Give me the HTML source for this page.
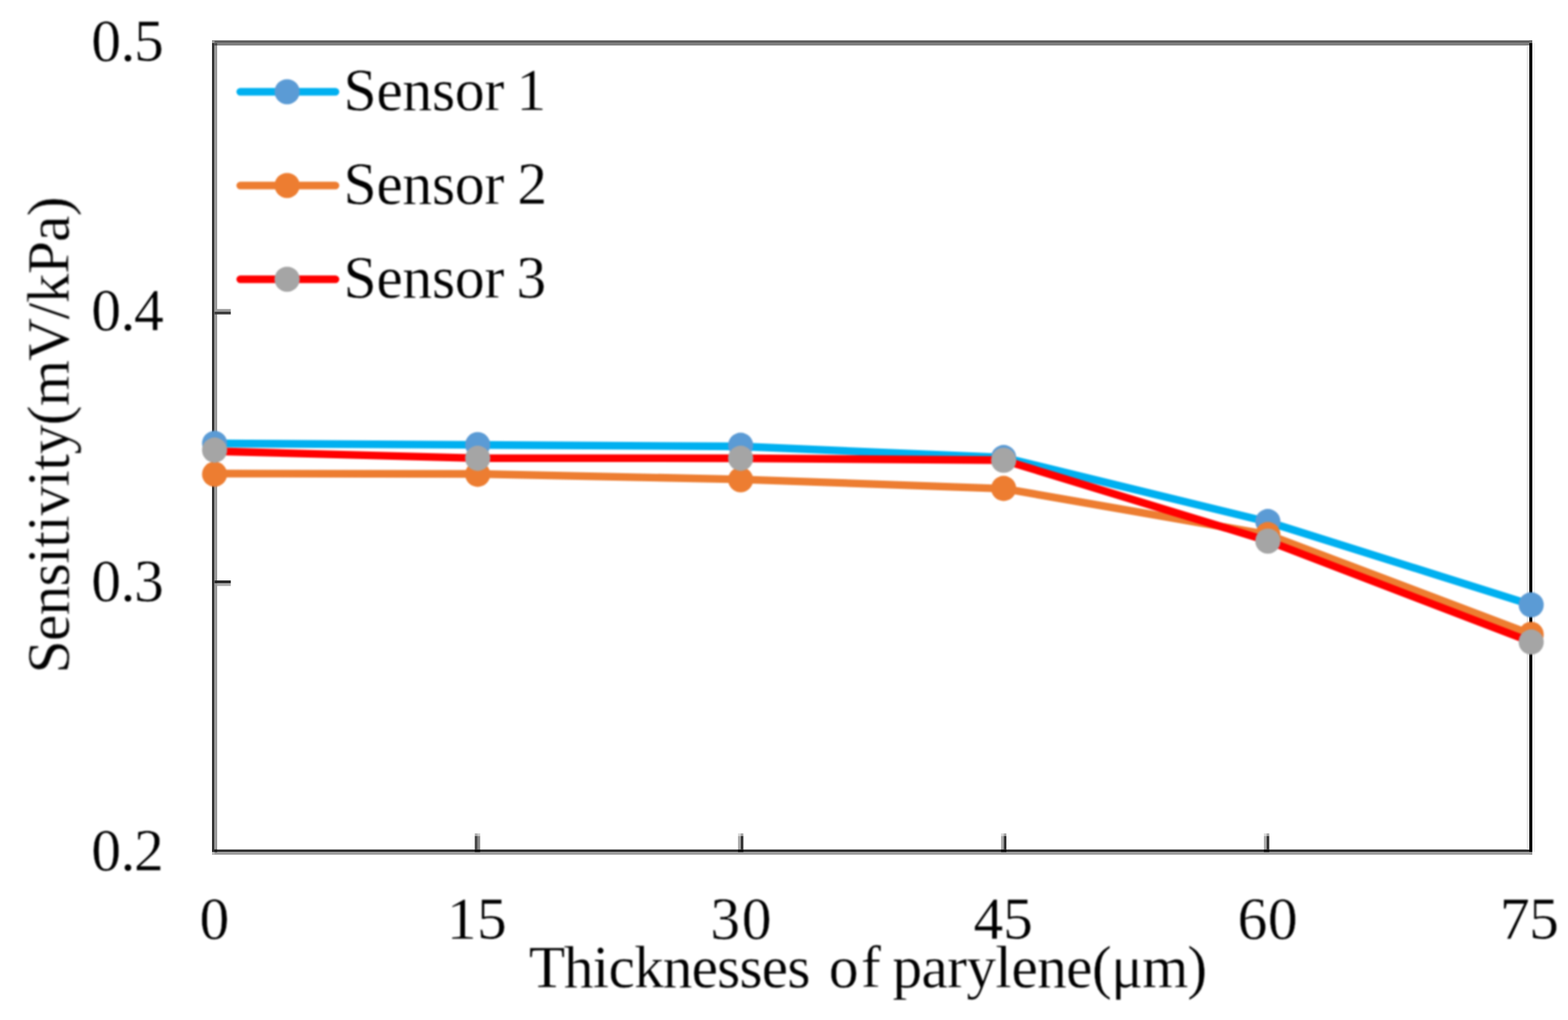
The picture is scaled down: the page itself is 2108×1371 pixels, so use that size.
<!DOCTYPE html>
<html lang="en"><head><meta charset="utf-8"><title>Sensitivity vs thickness of parylene</title>
<style>html,body{margin:0;padding:0;background:#fff;}body{width:2108px;height:1371px;overflow:hidden;}svg{display:block;}text{font-family:"Liberation Serif",serif;font-size:80px;fill:#000;font-kerning:none;stroke:#fff;stroke-width:0.4px;stroke-linejoin:round;}</style></head><body>
<svg width="2108" height="1371" viewBox="0 0 2108 1371">
<rect width="2108" height="1371" fill="#fff"/>
<g>
<rect x="285" y="54.3" width="1775" height="3.5" fill="#595959"/>
<rect x="285" y="57.8" width="1775" height="3.4" fill="#7f7f7f"/>
<rect x="285" y="57.8" width="3.5" height="1088" fill="#333"/>
<rect x="288.5" y="57.8" width="3.5" height="1088" fill="#999"/>
<rect x="285" y="1141.8" width="1775" height="3.5" fill="#303030"/>
<rect x="285" y="1145.3" width="1775" height="3.5" fill="#999"/>
<rect x="2052.5" y="61.2" width="3.5" height="1080.6" fill="#e8e8e8"/>
<rect x="2060" y="57.8" width="3.5" height="1087.5" fill="#f0f0f0"/>
<rect x="2056" y="57.8" width="4" height="1087.5" fill="#000"/>
<rect x="2056" y="54.3" width="4" height="3.5" fill="#6a6a6a"/>
<rect x="2056" y="1145.3" width="4" height="3.5" fill="#999"/>
<rect x="285" y="54.3" width="3.5" height="3.5" fill="#999"/>
<rect x="288.5" y="57.8" width="3.5" height="3.4" fill="#4d4d4d"/>
<rect x="285" y="1145.3" width="3.5" height="3.5" fill="#bbb"/>
<rect x="288.5" y="1141.8" width="3.5" height="3.5" fill="#1a1a1a"/>
<rect x="292" y="415.4" width="18.3" height="3.6" fill="#999"/>
<rect x="288.5" y="419" width="21.8" height="3.6" fill="#3a3a3a"/>
<rect x="288.5" y="780.2" width="21.8" height="3.7" fill="#222"/>
<rect x="292" y="783.9" width="18.3" height="3.7" fill="#aaa"/>
<rect x="638.3" y="1120.2" width="3.6" height="3.4" fill="#444" opacity="0.45"/>
<rect x="641.9" y="1120.2" width="3.6" height="3.4" fill="#888" opacity="0.45"/>
<rect x="638.3" y="1123.6" width="3.6" height="18.2" fill="#444"/>
<rect x="641.9" y="1123.6" width="3.6" height="18.2" fill="#888"/>
<rect x="638.3" y="1141.8" width="7.2" height="3.5" fill="#080808"/>
<rect x="992.2" y="1120.2" width="3.6" height="3.4" fill="#aaa" opacity="0.45"/>
<rect x="995.8" y="1120.2" width="3.6" height="3.4" fill="#333" opacity="0.45"/>
<rect x="992.2" y="1123.6" width="3.6" height="18.2" fill="#aaa"/>
<rect x="995.8" y="1123.6" width="3.6" height="18.2" fill="#333"/>
<rect x="992.2" y="1141.8" width="7.2" height="3.5" fill="#080808"/>
<rect x="1345.8" y="1120.2" width="3.6" height="3.4" fill="#aaa" opacity="0.45"/>
<rect x="1349.4" y="1120.2" width="3.6" height="3.4" fill="#333" opacity="0.45"/>
<rect x="1345.8" y="1123.6" width="3.6" height="18.2" fill="#aaa"/>
<rect x="1349.4" y="1123.6" width="3.6" height="18.2" fill="#333"/>
<rect x="1345.8" y="1141.8" width="7.2" height="3.5" fill="#080808"/>
<rect x="1699.2" y="1120.2" width="3.6" height="3.4" fill="#aaa" opacity="0.45"/>
<rect x="1702.8" y="1120.2" width="3.6" height="3.4" fill="#333" opacity="0.45"/>
<rect x="1699.2" y="1123.6" width="3.6" height="18.2" fill="#aaa"/>
<rect x="1702.8" y="1123.6" width="3.6" height="18.2" fill="#333"/>
<rect x="1699.2" y="1141.8" width="7.2" height="3.5" fill="#080808"/>
</g>
<g style="filter:blur(0.9px)">
<polyline points="288.5,596 642.2,598 995.7,600 1349.3,615 1704.5,701.5 2058.5,812.8" fill="none" stroke="#00b0f0" stroke-width="10.3" stroke-linecap="round" stroke-linejoin="round"/>
<circle cx="288.5" cy="596" r="16.9" fill="#5b9bd5"/><circle cx="642.2" cy="597.7" r="16.9" fill="#5b9bd5"/><circle cx="995.7" cy="598.5" r="16.9" fill="#5b9bd5"/><circle cx="1349.3" cy="615" r="16.9" fill="#5b9bd5"/><circle cx="1704.5" cy="701" r="16.9" fill="#5b9bd5"/><circle cx="2058.5" cy="813" r="16.9" fill="#5b9bd5"/>
<polyline points="288.5,636.5 642.2,637 995.7,644.3 1349.3,656.8 1704.5,718.5 2058.5,852.5" fill="none" stroke="#ed7d31" stroke-width="10.3" stroke-linecap="round" stroke-linejoin="round"/>
<circle cx="288.5" cy="637.4" r="16.9" fill="#ed7d31"/><circle cx="642.2" cy="637.5" r="16.9" fill="#ed7d31"/><circle cx="995.7" cy="644.8" r="16.9" fill="#ed7d31"/><circle cx="1349.3" cy="656.5" r="16.9" fill="#ed7d31"/><circle cx="1704.5" cy="718.5" r="16.9" fill="#ed7d31"/><circle cx="2058.5" cy="852.7" r="16.9" fill="#ed7d31"/>
<polyline points="288.5,606.5 642.2,615.8 995.7,616 1349.3,618.5 1704.5,727 2058.5,862.8" fill="none" stroke="#ff0000" stroke-width="10.3" stroke-linecap="round" stroke-linejoin="round"/>
<circle cx="288.5" cy="605" r="16.9" fill="#a5a5a5"/><circle cx="642.2" cy="616" r="16.9" fill="#a5a5a5"/><circle cx="995.7" cy="616" r="16.9" fill="#a5a5a5"/><circle cx="1349.3" cy="618.7" r="16.9" fill="#a5a5a5"/><circle cx="1704.5" cy="727.3" r="16.9" fill="#a5a5a5"/><circle cx="2058.5" cy="863" r="16.9" fill="#a5a5a5"/>
<line x1="323" y1="123.3" x2="451" y2="123.3" stroke="#00b0f0" stroke-width="10.3" stroke-linecap="round"/>
<circle cx="386" cy="123.3" r="16.9" fill="#5b9bd5"/>
<text id="leg0" x="461.8 505.9 541.1 580.8 611.6 651.3 677.9 694.3" y="148.2">Sensor 1</text>
<line x1="323" y1="249.3" x2="451" y2="249.3" stroke="#ed7d31" stroke-width="10.3" stroke-linecap="round"/>
<circle cx="386" cy="249.3" r="16.9" fill="#ed7d31"/>
<text id="leg1" x="461.8 505.9 541.1 580.8 611.6 651.3 677.9 695.4" y="274.2">Sensor 2</text>
<line x1="323" y1="375.3" x2="451" y2="375.3" stroke="#ff0000" stroke-width="10.3" stroke-linecap="round"/>
<circle cx="386" cy="375.3" r="16.9" fill="#a5a5a5"/>
<text id="leg2" x="461.8 505.9 541.1 580.8 611.6 651.3 677.9 694.2" y="400.2">Sensor 3</text>
<text id="yt0" x="122.7 162.1 180.3" y="82">0.5</text>
<text id="yt1" x="122.7 162.1 180.3" y="444">0.4</text>
<text id="yt2" x="122.7 162.1 180.3" y="808">0.3</text>
<text id="yt3" x="122.7 162.1 180.3" y="1170">0.2</text>
<text id="xt0" x="268.3" y="1262">0</text>
<text id="xt1" x="600.7 641.2" y="1262">15</text>
<text id="xt2" x="955.1 997.3" y="1262">30</text>
<text id="xt3" x="1308.8 1348.5" y="1262">45</text>
<text id="xt4" x="1663.8 1704.5" y="1262">60</text>
<text id="xt5" x="2016.5 2055.7" y="1262">75</text>
<text id="xtitle" x="710.9 758.0 796.7 818.1 852.4 891.0 929.7 963.9 994.0 1024.1 1058.4 1088.4 1114.3 1157.4 1184.0 1199.7 1238.7 1273.2 1299.2 1338.1 1359.8 1394.3 1433.3 1467.9 1493.8 1535.6 1596.2" y="1326.5">Thicknesses of parylene(μm)</text>
<text id="ytitle" transform="translate(92.3,899.7) rotate(-90)" x="-5.4 38.0 72.5 111.5 141.8 163.4 185.1 206.7 245.6 267.3 288.9 327.9 353.8 414.4 470.6 492.3 531.2 574.5 609.1" y="0">Sensitivity(mV/kPa)</text>
</g>
</svg></body></html>
